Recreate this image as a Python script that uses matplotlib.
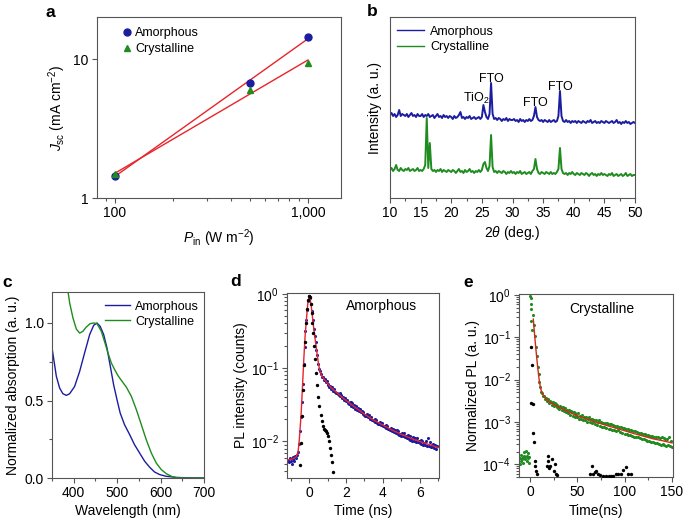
import numpy as np
import matplotlib
matplotlib.use("Agg")
import matplotlib.pyplot as plt
from matplotlib.ticker import FixedLocator, MultipleLocator, FuncFormatter, LogLocator, NullLocator, NullFormatter

plt.rcParams['font.family'] = ['Liberation Sans', 'DejaVu Sans']
plt.rcParams['mathtext.fontset'] = 'custom'
plt.rcParams['mathtext.rm'] = 'Liberation Sans'
plt.rcParams['mathtext.it'] = 'Liberation Sans:italic'
plt.rcParams['mathtext.bf'] = 'Liberation Sans:bold'
plt.rcParams['font.size'] = 10

BLUE = '#1c1ca0'
GREEN = '#1e8c1e'
RED = '#e8242a'
SPINE = '#555555'
FS = 10
LEG = 9

# ---------------- data: panel a ----------------
a_power = [100, 500, 1000]
a_jsc_amorphous = [1.45, 6.78, 14.5]
a_jsc_crystalline = [1.48, 6.0, 9.45]

# ---------------- data: panel b (XRD) ----------------
b_two_theta = np.arange(10, 50.001, 0.25)
b_amorphous = [
    83, 85, 82, 84, 81, 83, 88, 82, 84, 83, 82, 84, 81, 83, 85, 82, 83, 81, 84, 82,
    82, 84, 81, 83, 82, 84, 81, 82, 83, 80, 82, 84, 81, 82, 80, 83, 81, 82, 80, 82,
    81, 79, 82, 80, 81, 83, 86, 80, 81, 79, 81, 80, 82, 79, 80, 81, 79, 80, 81, 79,
    81, 93, 86, 81, 79, 84, 115, 84, 79, 80, 78, 80, 79, 77, 79, 78, 80, 77, 79, 78,
    78, 79, 77, 78, 76, 79, 77, 78, 76, 78, 77, 79, 77, 78, 82, 91, 81, 78, 77, 78,
    76, 78, 77, 76, 78, 76, 77, 78, 76, 77, 82, 107, 82, 77, 76, 78, 76, 77, 75, 77,
    76, 77, 75, 77, 76, 75, 77, 76, 75, 77, 76, 78, 75, 76, 77, 75, 76, 75, 77, 76,
    75, 77, 76, 75, 76, 77, 75, 76, 78, 75, 76, 74, 76, 75, 77, 75, 76, 74, 75, 76,
    75]
b_crystalline = [
    28, 30, 27, 29, 33, 28, 27, 30, 28, 27, 29, 28, 30, 27, 28, 29, 27, 28, 30, 27,
    28, 27, 29, 33, 80, 30, 55, 29, 27, 28, 26, 28, 27, 29, 26, 28, 27, 26, 28, 27,
    26, 28, 27, 25, 27, 29, 26, 27, 25, 28, 26, 27, 29, 26, 27, 25, 27, 26, 28, 26,
    28, 34, 36, 30, 27, 32, 63, 31, 26, 27, 25, 27, 26, 25, 27, 26, 24, 26, 25, 27,
    25, 26, 24, 26, 25, 27, 24, 25, 26, 24, 25, 26, 24, 27, 29, 39, 29, 25, 24, 26,
    25, 24, 26, 25, 24, 26, 24, 25, 24, 26, 29, 50, 29, 25, 24, 25, 23, 25, 24, 26,
    24, 23, 25, 24, 23, 25, 24, 23, 25, 24, 22, 24, 25, 23, 24, 22, 24, 23, 25, 23,
    24, 23, 22, 24, 23, 25, 22, 23, 24, 22, 23, 24, 22, 23, 25, 22, 23, 24, 22, 23,
    23]
b_labels = ['TiO$_2$', 'FTO', 'FTO', 'FTO']
b_label_x = [24.15, 26.6, 33.8, 37.76]
b_label_y = [100, 119, 95.5, 110.5]

# ---------------- data: panel c (absorption) ----------------
c_wl_amorphous = [350, 360, 367.6, 375, 383, 390.7, 402, 413.7, 425, 436.7, 446, 453.6, 461,
                  469, 476.6, 484.3, 492, 499.7, 507, 517, 528.8, 540, 551.8, 563.4, 575,
                  586, 598, 613, 636, 660, 700]
c_abs_amorphous = [0.84, 0.656, 0.58, 0.544, 0.533, 0.544, 0.59, 0.688, 0.806, 0.925, 0.985,
                   1.0, 0.978, 0.925, 0.839, 0.72, 0.60, 0.505, 0.419, 0.344, 0.28, 0.215,
                   0.161, 0.108, 0.069, 0.039, 0.022, 0.011, 0.004, 0.001, 0.0]
c_wl_crystalline = [380, 386.8, 390.7, 398.3, 406, 413.7, 421, 429, 438, 446, 453.6, 463.6,
                    471, 479, 486.6, 494.3, 502, 509.7, 521, 532.7, 544.2, 555.7, 567,
                    578.7, 590, 601.7, 613, 625, 636, 660, 700]
c_abs_crystalline = [1.40, 1.204, 1.129, 1.032, 0.961, 0.935, 0.946, 0.974, 0.996, 1.0, 0.996,
                     0.946, 0.88, 0.806, 0.742, 0.699, 0.66, 0.63, 0.587, 0.527, 0.441,
                     0.344, 0.247, 0.161, 0.097, 0.054, 0.028, 0.011, 0.002, 0.0, 0.0]

# ---------------- data: panel d (amorphous TRPL) ----------------
d_time = np.round(np.arange(-1.15, 6.96, 0.05), 2)
d_pl = [
    0.0057, 0.0052, 0.0060, 0.0055, 0.0049, 0.0058, 0.0061, 0.0054, 0.0063, 0.0059,
    0.0066, 0.0073, 0.0093, 0.0138, 0.0215, 0.034, 0.060, 0.113, 0.19, 0.31,
    0.45, 0.61, 0.81, 0.93, 0.87, 0.73, 0.59, 0.44, 0.34, 0.27,
    0.22, 0.172, 0.147, 0.114, 0.097, 0.089, 0.083, 0.075, 0.076, 0.069,
    0.071, 0.064, 0.066, 0.059, 0.061, 0.055, 0.057, 0.052, 0.054, 0.049,
    0.052, 0.047, 0.046, 0.046, 0.044, 0.043, 0.045, 0.041, 0.043, 0.039,
    0.040, 0.036, 0.039, 0.035, 0.037, 0.033, 0.032, 0.034, 0.034, 0.030,
    0.033, 0.029, 0.031, 0.028, 0.030, 0.027, 0.0285, 0.026, 0.0275, 0.0248,
    0.0262, 0.0238, 0.0251, 0.0229, 0.0224, 0.0220, 0.0233, 0.0212, 0.0226, 0.0204,
    0.0218, 0.0197, 0.0196, 0.0190, 0.0203, 0.0182, 0.0197, 0.0178, 0.0174, 0.0171,
    0.0184, 0.0166, 0.0178, 0.0160, 0.0162, 0.0155, 0.0168, 0.0151, 0.0163, 0.0146,
    0.0150, 0.0141, 0.0153, 0.0137, 0.0149, 0.0133, 0.0145, 0.0129, 0.0141, 0.0126,
    0.0137, 0.0123, 0.0126, 0.0120, 0.0131, 0.0117, 0.0129, 0.0114, 0.0118, 0.0111,
    0.0122, 0.0108, 0.0119, 0.0106, 0.0108, 0.0103, 0.0114, 0.0101, 0.0112, 0.0099,
    0.0110, 0.0097, 0.0101, 0.0095, 0.0105, 0.0093, 0.0103, 0.0091, 0.0094, 0.0089,
    0.0100, 0.0088, 0.0110, 0.0086, 0.0097, 0.0085, 0.0089, 0.0083, 0.0093, 0.0081,
    0.0090, 0.0079, 0.0088]
d_fit_time = [-1.2, -0.9, -0.7, -0.6, -0.54, -0.48, -0.43, -0.36, -0.29, -0.22, -0.14, -0.07,
              0.0, 0.05, 0.11, 0.22, 0.33, 0.43, 0.51, 0.6, 0.7, 0.8, 1.0, 1.25, 1.5, 2.0,
              2.5, 3.0, 3.5, 4.0, 4.5, 5.0, 5.5, 6.0, 6.5, 7.0]
d_fit = [0.0056, 0.0058, 0.0062, 0.0072, 0.010, 0.016, 0.0245, 0.055, 0.128, 0.264, 0.47,
         0.75, 0.92, 0.86, 0.71, 0.40, 0.24, 0.157, 0.112, 0.087, 0.077, 0.071, 0.061,
         0.052, 0.046, 0.036, 0.029, 0.0235, 0.0195, 0.0167, 0.0143, 0.0125, 0.0111,
         0.0100, 0.0091, 0.0083]
d_irf_time = [-0.47, -0.42, -0.37, -0.32, -0.27, -0.22, -0.17, -0.12, -0.07, -0.02, 0.03,
              0.08, 0.13, 0.18, 0.23, 0.29, 0.34, 0.39, 0.44, 0.50, 0.56, 0.62, 0.68, 0.74,
              0.80, 0.86, 0.92, 0.97, 1.02, 1.08, 1.14, 1.20, 1.26, 1.32]
d_irf = [0.0048, 0.0095, 0.022, 0.05, 0.11, 0.22, 0.40, 0.62, 0.82, 0.95, 0.90, 0.72, 0.55,
         0.40, 0.30, 0.20, 0.13, 0.085, 0.058, 0.040, 0.030, 0.023, 0.019, 0.016, 0.0148,
         0.0142, 0.0137, 0.0130, 0.0118, 0.0100, 0.0082, 0.0066, 0.0052, 0.0039]

# ---------------- data: panel e (crystalline TRPL) ----------------
e_early_time = [-11, -10.3, -9.6, -9, -8.4, -7.8, -7.2, -6.6, -6, -5.4, -4.8, -4.2, -3.6, -3,
                -2.4, -1.8, -1.2, -0.6, 0.3, 0.6, 0.9, 1.2, 1.5, 1.8]
e_early_pl = [1.0e-4, 1.4e-4, 1.2e-4, 1.7e-4, 1.3e-4, 1.5e-4, 1.1e-4, 1.6e-4, 1.9e-4, 1.3e-4,
              1.5e-4, 2.1e-4, 1.2e-4, 1.6e-4, 1.4e-4, 1.8e-4, 1.1e-4, 1.5e-4,
              0.97, 0.85, 0.62, 0.48, 0.24, 0.15]
e_time = np.arange(3, 151, 1)
e_pl = [
    0.34, 0.20, 0.11, 0.058, 0.036, 0.020, 0.0138, 0.0086, 0.0068, 0.0052, 0.0049, 0.0041,
    0.0042, 0.0034, 0.0037, 0.0031, 0.0034, 0.0028, 0.0031, 0.0030, 0.0025, 0.0029,
    0.0024, 0.0028, 0.0026, 0.0022, 0.0025, 0.0021, 0.0020, 0.0024, 0.0022, 0.0019,
    0.0022, 0.0018, 0.0021, 0.0017, 0.0019, 0.0016, 0.0019, 0.0015, 0.0018, 0.0017,
    0.0014, 0.0017, 0.0016, 0.0013, 0.0015, 0.0013, 0.0016, 0.0012, 0.0014, 0.0012,
    0.0015, 0.0011, 0.0013, 0.0011, 0.0013, 0.0010, 0.0012, 0.0013, 0.0010, 0.0012,
    0.00095, 0.0012, 0.00098, 0.0011, 0.00088, 0.0011, 0.00085, 0.0010, 0.0011, 0.00082,
    0.0010, 0.00078, 0.00096, 0.00074, 0.00095, 0.00072, 0.00094, 0.00090, 0.00068, 0.00088,
    0.00070, 0.00088, 0.00066, 0.00085, 0.00064, 0.00082, 0.00062, 0.00080, 0.00063, 0.00078,
    0.00058, 0.00076, 0.00056, 0.00073, 0.00072, 0.00053, 0.00070, 0.00051, 0.00067, 0.00050,
    0.00065, 0.00048, 0.00063, 0.00046, 0.00062, 0.00045, 0.00060, 0.00044, 0.00058, 0.00043,
    0.00056, 0.00042, 0.00055, 0.00040, 0.00052, 0.00039, 0.00051, 0.00038, 0.00050, 0.00036,
    0.00049, 0.00036, 0.00047, 0.00034, 0.00046, 0.00033, 0.00045, 0.00032, 0.00044, 0.00031,
    0.00043, 0.00030, 0.00042, 0.00029, 0.00045, 0.00030, 0.00041, 0.00028, 0.00040, 0.00027,
    0.00039, 0.00028, 0.00044, 0.00027, 0.00036, 0.00025]
e_fit_time = [3.5, 4, 5, 6, 7, 8, 9, 10, 11, 12, 13, 14, 15, 17, 20, 25, 30, 40, 50, 60, 70,
              80, 90, 100, 110, 120, 130, 140, 150]
e_fit = [0.27, 0.20, 0.105, 0.060, 0.035, 0.021, 0.0132, 0.0089, 0.0066, 0.0054, 0.0047,
         0.0043, 0.0040, 0.0035, 0.0030, 0.0026, 0.00229, 0.00175, 0.00140, 0.00118, 0.00098,
         0.00084, 0.00072, 0.00062, 0.00053, 0.00046, 0.00040, 0.00036, 0.00032]
e_irf_time = [0.7, 1.0, 1.8, 2.8, 3.5, 3.8, 5.0, 5.5, 6.3, 7.3, 17.5, 18.5, 19.4, 20.3, 21.5,
              23.0, 25.0, 26.4, 27.5, 28.0, 63.5, 65.0, 66.5, 68.5, 70.0, 72.0, 74.0, 77.0,
              80.0, 83.0, 86.0, 88.0, 91.0, 93.0, 96.0, 98.0, 101.0, 104.0, 107.0]
e_irf = [0.0028, 0.060, 0.022, 0.0026, 0.00055, 0.00034, 0.00012, 0.00009, 0.00007, 0.00006,
         0.00009, 0.00016, 0.00012, 0.00008, 0.00009, 0.00013, 0.00007, 0.00010, 0.00006,
         0.000055, 0.00006, 0.00009, 0.00006, 0.000065, 0.00007, 0.000058, 0.000055,
         0.000053, 0.000052, 0.000052, 0.000053, 0.000052, 0.000058, 0.00006, 0.000058,
         0.000075, 0.000085, 0.00006, 0.000058]

# ---------------- figure ----------------
W, H = 685, 522
fig = plt.figure(figsize=(W / 100, H / 100), dpi=100)


def add_axes(l, r, t, b):
    return fig.add_axes([l / W, 1 - b / H, (r - l) / W, (b - t) / H])


def style(ax):
    for s in ax.spines.values():
        s.set_color(SPINE)
        s.set_linewidth(0.8)
    ax.tick_params(which='both', direction='out', color=SPINE, width=0.8,
                   labelsize=FS, top=False, right=False, pad=2.5)
    ax.tick_params(which='major', length=3.5)
    ax.tick_params(which='minor', length=2)


# panel a
ax = add_axes(97, 341, 17, 198)
style(ax)
ax.set_xscale('log')
ax.set_yscale('log')
lx = np.log10(a_power)
for yv in (a_jsc_amorphous, a_jsc_crystalline):
    p = np.polyfit(lx, np.log10(yv), 1)
    xs = np.array([100, 1000])
    ax.plot(xs, 10 ** np.polyval(p, np.log10(xs)), color=RED, lw=1.0, zorder=2)
ax.plot(a_power, a_jsc_amorphous, 'o', color=BLUE, ms=5, ls='none', label='Amorphous', zorder=3)
ax.plot(a_power, a_jsc_crystalline, '^', color=GREEN, ms=4.5, ls='none', label='Crystalline', zorder=3)
ax.set_xlim(80.7, 1483)
ax.set_ylim(1, 20.2)
ax.yaxis.set_major_locator(FixedLocator([1, 10]))
ax.yaxis.set_minor_locator(NullLocator())
ax.yaxis.set_major_formatter(FuncFormatter(lambda v, p: f'{v:g}'))
ax.xaxis.set_major_locator(FixedLocator([100, 1000]))
ax.xaxis.set_major_formatter(FuncFormatter(lambda v, p: f'{v:,.0f}'))
ax.xaxis.set_minor_formatter(NullFormatter())
ax.set_xlabel('$P_{\\rm in}$ (W m$^{-2}$)', labelpad=5, fontsize=FS)
ax.set_ylabel('$J_{\\rm sc}$ (mA cm$^{-2}$)', labelpad=4, fontsize=FS)
ax.legend(loc='upper left', bbox_to_anchor=(0.07, 0.97), frameon=False, fontsize=LEG,
          handletextpad=0.1, labelspacing=0.3, borderaxespad=0, handlelength=1.2)

# panel b
ax = add_axes(390, 635, 17, 198)
style(ax)
ax.plot(b_two_theta, b_amorphous, color=BLUE, lw=1.4, label='Amorphous')
ax.plot(b_two_theta, b_crystalline, color=GREEN, lw=1.4, label='Crystalline')
for txt, xx, yy in zip(b_labels, b_label_x, b_label_y):
    ax.text(xx, yy, txt, ha='center', va='center', fontsize=LEG)
ax.set_xlim(10, 50)
ax.set_ylim(0, 181)
ax.set_yticks([])
ax.xaxis.set_major_locator(MultipleLocator(5))
ax.xaxis.set_minor_locator(MultipleLocator(2.5))
ax.set_xlabel('2$\\theta$ (deg.)', labelpad=3, fontsize=FS)
ax.set_ylabel('Intensity (a. u.)', labelpad=6, fontsize=FS)
leg = ax.legend(loc='upper left', bbox_to_anchor=(0.01, 0.98), frameon=False, fontsize=LEG,
                handletextpad=0.5, labelspacing=0.3, borderaxespad=0, handlelength=2.1)
for ln in leg.get_lines():
    ln.set_linewidth(1.0)

# panel c
ax = add_axes(52, 204, 292, 478)
style(ax)
ax.plot(c_wl_amorphous, c_abs_amorphous, color=BLUE, lw=1.0, label='Amorphous')
ax.plot(c_wl_crystalline, c_abs_crystalline, color=GREEN, lw=1.0, label='Crystalline')
ax.set_xlim(350, 700)
ax.set_ylim(0, 1.2)
ax.xaxis.set_major_locator(MultipleLocator(100))
ax.xaxis.set_minor_locator(MultipleLocator(50))
ax.yaxis.set_major_locator(FixedLocator([0, 0.5, 1.0]))
ax.yaxis.set_minor_locator(FixedLocator([0.25, 0.75]))
ax.yaxis.set_major_formatter(FuncFormatter(lambda v, p: f'{v:.1f}'))
ax.set_xlabel('Wavelength (nm)', labelpad=3, fontsize=FS)
ax.set_ylabel('Normalized absorption (a. u.)', labelpad=3, fontsize=FS)
ax.legend(loc='upper right', bbox_to_anchor=(1.0, 0.98), frameon=False, fontsize=LEG,
          handletextpad=0.4, labelspacing=0.25, borderaxespad=0, handlelength=2.0)

# panel d
ax = add_axes(287, 439, 293, 478)
style(ax)
ax.set_yscale('log')
ax.scatter(d_time, d_pl, s=5, color=BLUE, linewidths=0, zorder=2)
ax.plot(d_fit_time, d_fit, color=RED, lw=1.0, zorder=3)
ax.scatter(d_irf_time, d_irf, s=6, color='black', linewidths=0, zorder=4)
ax.set_xlim(-1.2, 7.05)
ax.set_ylim(0.0032, 1.03)
ax.xaxis.set_major_locator(MultipleLocator(2))
ax.xaxis.set_minor_locator(MultipleLocator(1))
ax.yaxis.set_major_locator(LogLocator(base=10, numticks=10))
ax.yaxis.set_minor_locator(LogLocator(base=10, subs=np.arange(2, 10), numticks=10))
ax.yaxis.set_minor_formatter(NullFormatter())
ax.set_xlabel('Time (ns)', labelpad=3, fontsize=FS)
ax.set_ylabel('PL intensity (counts)', labelpad=2, fontsize=FS)
ax.text(0.62, 0.93, 'Amorphous', transform=ax.transAxes, ha='center', va='center', fontsize=FS)

# panel e
ax = add_axes(519, 673, 294, 477)
style(ax)
ax.set_yscale('log')
ax.scatter(e_early_time, e_early_pl, s=5, color=GREEN, linewidths=0, zorder=2)
ax.scatter(e_time, e_pl, s=5, color=GREEN, linewidths=0, zorder=2)
ax.plot(e_fit_time, e_fit, color='#d8261a', lw=1.0, zorder=3)
ax.scatter(e_irf_time, e_irf, s=6, color='black', linewidths=0, zorder=4)
ax.set_xlim(-11.6, 151)
ax.set_ylim(5e-5, 1.06)
ax.xaxis.set_major_locator(MultipleLocator(50))
ax.xaxis.set_minor_locator(MultipleLocator(25))
ax.yaxis.set_major_locator(LogLocator(base=10, numticks=10))
ax.yaxis.set_minor_locator(LogLocator(base=10, subs=np.arange(2, 10), numticks=10))
ax.yaxis.set_minor_formatter(NullFormatter())
ax.set_xlabel('Time(ns)', labelpad=3, fontsize=FS)
ax.set_ylabel('Normalized PL (a. u.)', labelpad=2, fontsize=FS)
ax.text(0.54, 0.92, 'Crystalline', transform=ax.transAxes, ha='center', va='center', fontsize=FS)

# panel letters
for letter, px, py in [('a', 45, 17), ('b', 367, 16), ('c', 2, 287), ('d', 230, 286), ('e', 463, 287)]:
    fig.text(px / W, 1 - py / H, letter, fontsize=12.5, fontweight='bold', ha='left', va='baseline')

fig.savefig('out.png', dpi=100)
